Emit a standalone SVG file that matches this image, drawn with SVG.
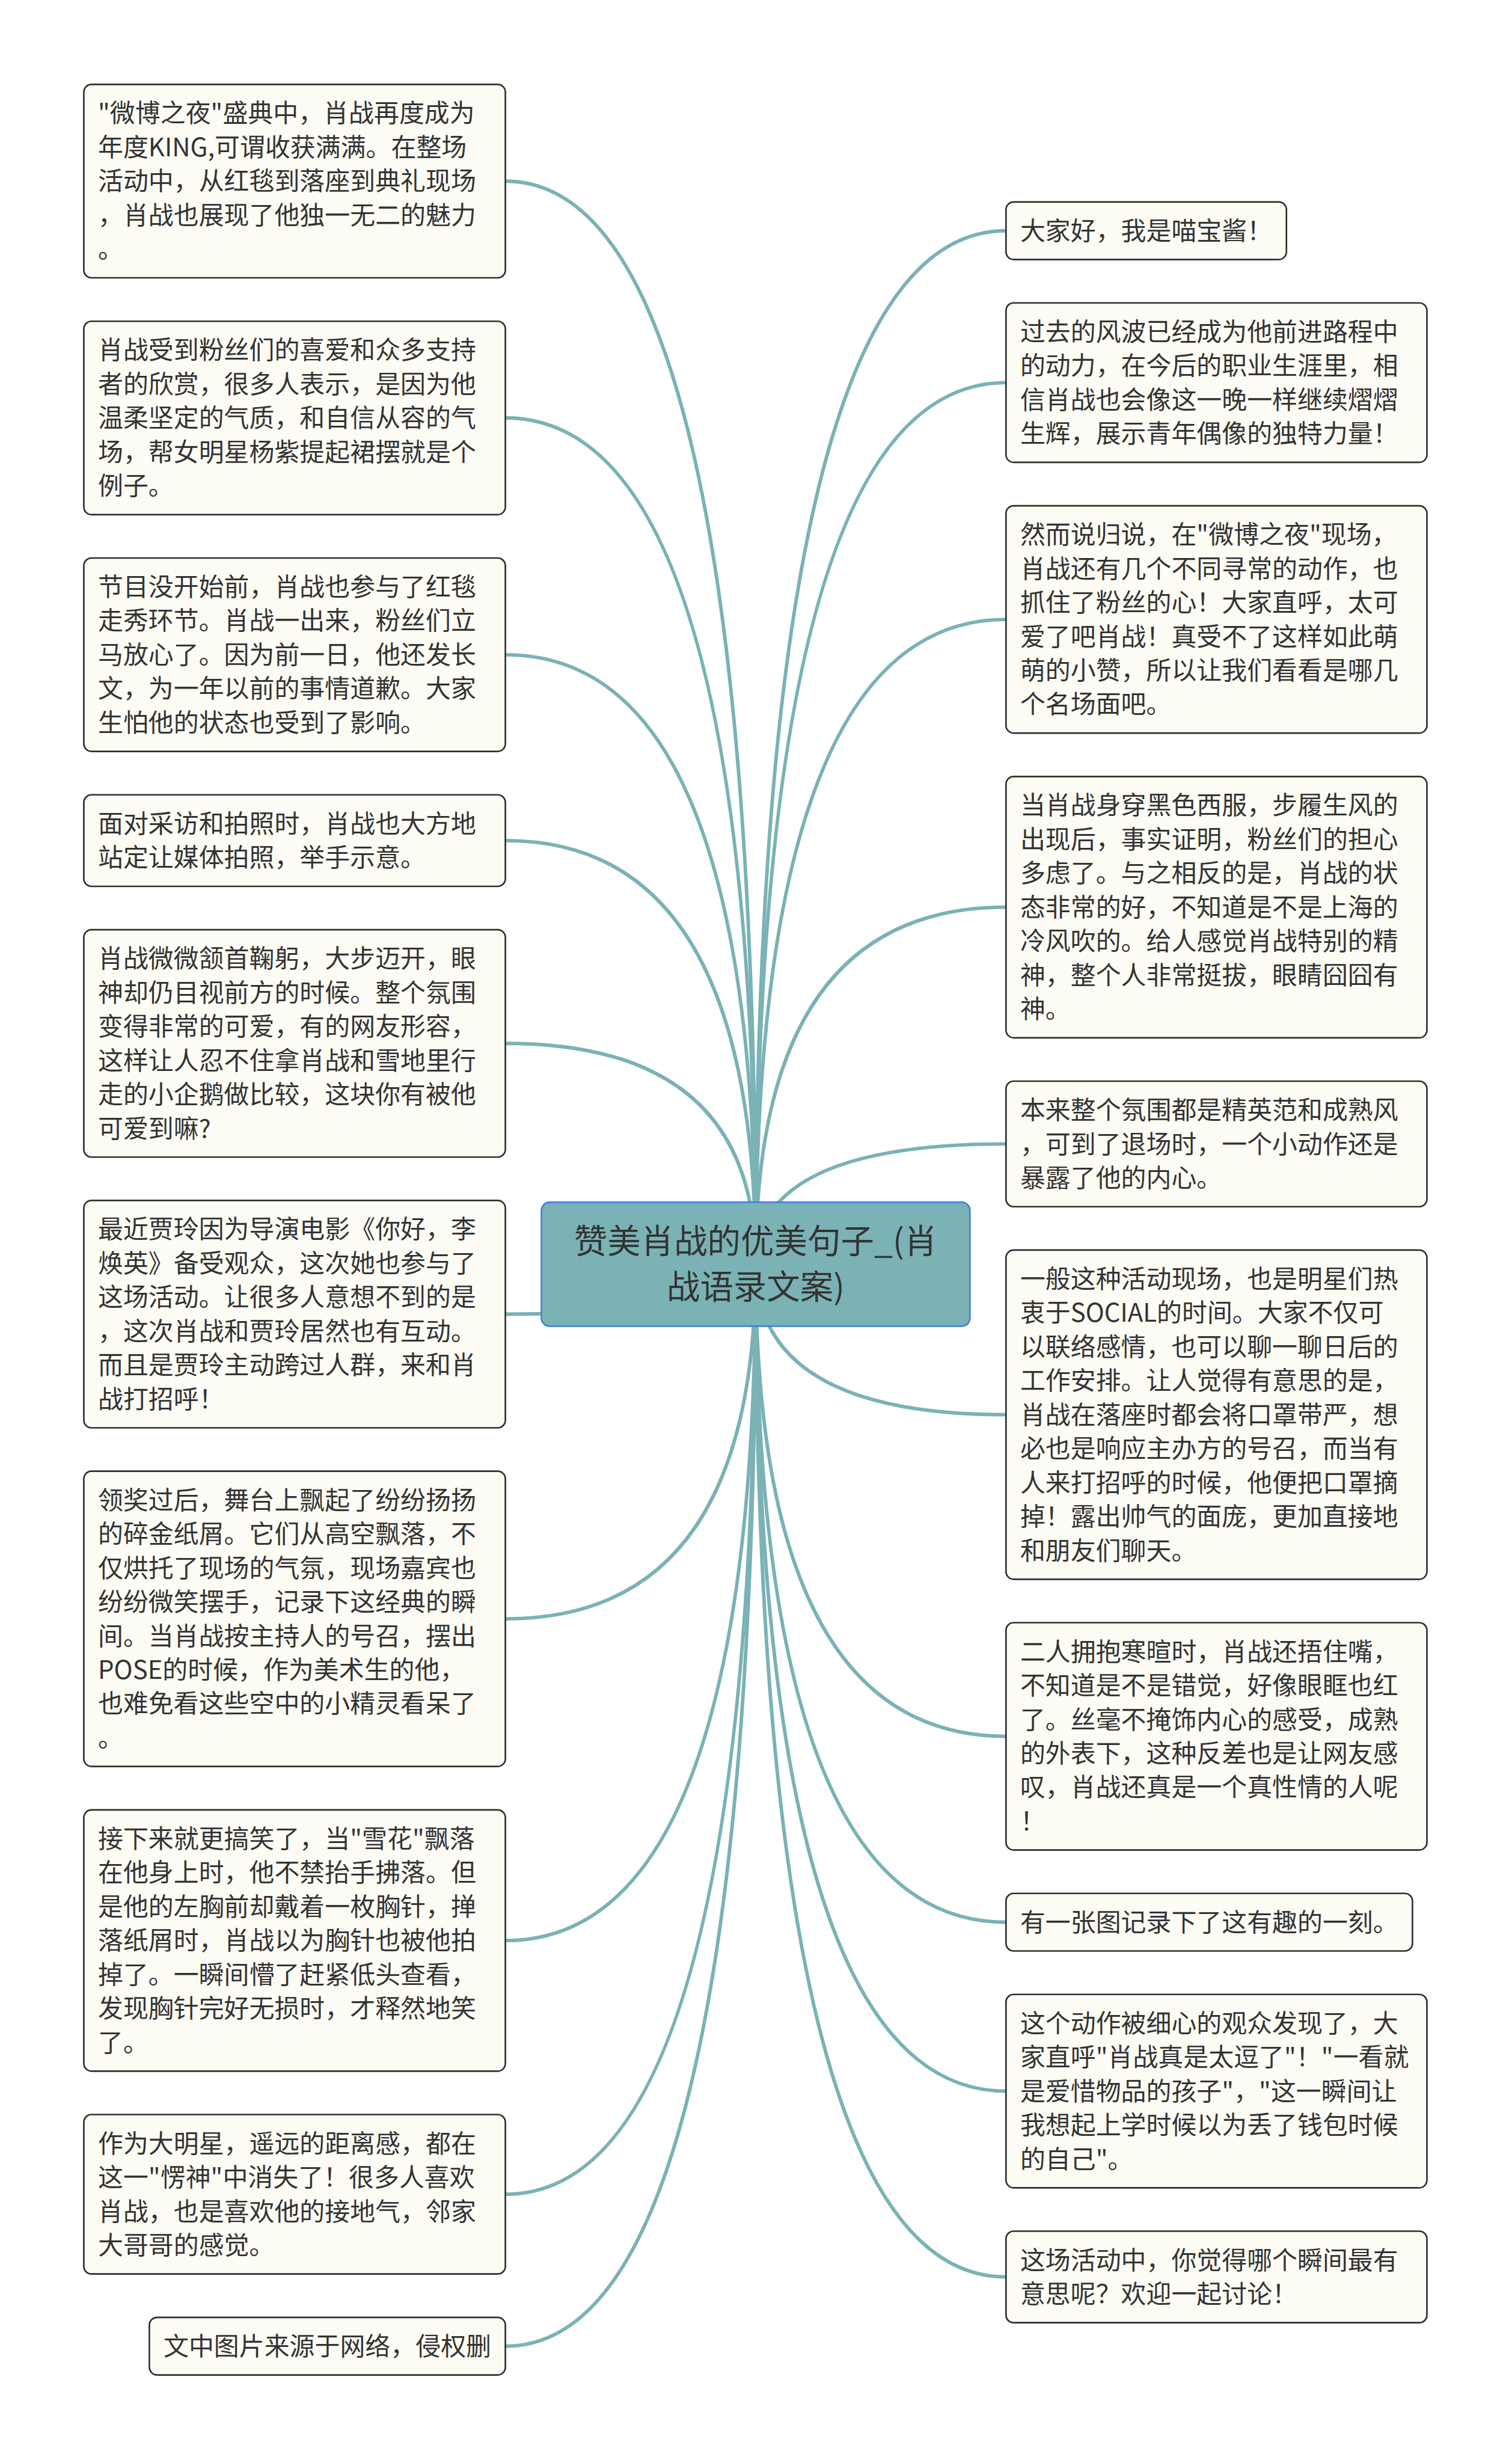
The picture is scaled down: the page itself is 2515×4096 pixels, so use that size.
<svg xmlns="http://www.w3.org/2000/svg" width="2515" height="4096" viewBox="0 0 2515 4096">
<style>
.box{fill:#fdfcf4;stroke:#2f2f2f;stroke-width:2.7}
.t{font-family:"Noto Sans CJK SC","Noto Sans",sans-serif;font-size:42.7px;fill:#333333}
.link{fill:none;stroke:#7ab2b5;stroke-width:6;stroke-linecap:round}
.cbox{fill:#7ab2b5;stroke:#3b7ddb;stroke-width:2.5}
.title{font-family:"Noto Sans CJK SC","Noto Sans",sans-serif;font-size:56.5px;fill:#333333;text-anchor:middle}
</style>
<rect x="0" y="0" width="2515" height="4096" fill="#ffffff"/>
<g transform="scale(0.982)">
<g id="connectors">
<path class="link" d="M1280 2141 Q1280 306.8 856 306.8"/>
<path class="link" d="M1280 2141 Q1280 707.8 856 707.8"/>
<path class="link" d="M1280 2141 Q1280 1108.8 856 1108.8"/>
<path class="link" d="M1280 2141 Q1280 1423.5 856 1423.5"/>
<path class="link" d="M1280 2141 Q1280 1767 856 1767"/>
<path class="link" d="M1280 2141 Q1280 2225.5 856 2225.5"/>
<path class="link" d="M1280 2141 Q1280 2741.5 856 2741.5"/>
<path class="link" d="M1280 2141 Q1280 3286.3 856 3286.3"/>
<path class="link" d="M1280 2141 Q1280 3716 856 3716"/>
<path class="link" d="M1280 2141 Q1280 3973.3 856 3973.3"/>
<path class="link" d="M1280 2141 Q1280 390.8 1704 390.8"/>
<path class="link" d="M1280 2141 Q1280 648 1704 648"/>
<path class="link" d="M1280 2141 Q1280 1049 1704 1049"/>
<path class="link" d="M1280 2141 Q1280 1536.3 1704 1536.3"/>
<path class="link" d="M1280 2141 Q1280 1937.3 1704 1937.3"/>
<path class="link" d="M1280 2141 Q1280 2395.8 1704 2395.8"/>
<path class="link" d="M1280 2141 Q1280 2940.5 1704 2940.5"/>
<path class="link" d="M1280 2141 Q1280 3255.3 1704 3255.3"/>
<path class="link" d="M1280 2141 Q1280 3541.3 1704 3541.3"/>
<path class="link" d="M1280 2141 Q1280 3856 1704 3856"/>
</g>
<g id="center">
<rect class="cbox" x="917" y="2036" width="726" height="210" rx="14"/>
<text class="title"><tspan x="1280" y="2122">赞美肖战的优美句子_(肖</tspan><tspan x="1280" y="2200">战语录文案)</tspan></text>
</g>
<g id="n1">
<rect class="box" x="142" y="143" width="714" height="327.5" rx="13"/>
<text class="t"><tspan x="166" y="207.2">"微博之夜"盛典中，肖战再度成为</tspan><tspan x="166" y="264.7">年度KING,可谓收获满满。在整场</tspan><tspan x="166" y="322.2">活动中，从红毯到落座到典礼现场</tspan><tspan x="166" y="379.7">，肖战也展现了他独一无二的魅力</tspan><tspan x="166" y="437.2">。</tspan></text>
</g>
<g id="n2">
<rect class="box" x="142" y="544" width="714" height="327.5" rx="13"/>
<text class="t"><tspan x="166" y="608.2">肖战受到粉丝们的喜爱和众多支持</tspan><tspan x="166" y="665.7">者的欣赏，很多人表示，是因为他</tspan><tspan x="166" y="723.2">温柔坚定的气质，和自信从容的气</tspan><tspan x="166" y="780.7">场，帮女明星杨紫提起裙摆就是个</tspan><tspan x="166" y="838.2">例子。</tspan></text>
</g>
<g id="n3">
<rect class="box" x="142" y="945" width="714" height="327.5" rx="13"/>
<text class="t"><tspan x="166" y="1009.2">节目没开始前，肖战也参与了红毯</tspan><tspan x="166" y="1066.7">走秀环节。肖战一出来，粉丝们立</tspan><tspan x="166" y="1124.2">马放心了。因为前一日，他还发长</tspan><tspan x="166" y="1181.7">文，为一年以前的事情道歉。大家</tspan><tspan x="166" y="1239.2">生怕他的状态也受到了影响。</tspan></text>
</g>
<g id="n4">
<rect class="box" x="142" y="1346" width="714" height="155" rx="13"/>
<text class="t"><tspan x="166" y="1410.2">面对采访和拍照时，肖战也大方地</tspan><tspan x="166" y="1467.7">站定让媒体拍照，举手示意。</tspan></text>
</g>
<g id="n5">
<rect class="box" x="142" y="1574.5" width="714" height="385" rx="13"/>
<text class="t"><tspan x="166" y="1638.7">肖战微微颔首鞠躬，大步迈开，眼</tspan><tspan x="166" y="1696.2">神却仍目视前方的时候。整个氛围</tspan><tspan x="166" y="1753.7">变得非常的可爱，有的网友形容，</tspan><tspan x="166" y="1811.2">这样让人忍不住拿肖战和雪地里行</tspan><tspan x="166" y="1868.7">走的小企鹅做比较，这块你有被他</tspan><tspan x="166" y="1926.2">可爱到嘛?</tspan></text>
</g>
<g id="n6">
<rect class="box" x="142" y="2033" width="714" height="385" rx="13"/>
<text class="t"><tspan x="166" y="2097.2">最近贾玲因为导演电影《你好，李</tspan><tspan x="166" y="2154.7">焕英》备受观众，这次她也参与了</tspan><tspan x="166" y="2212.2">这场活动。让很多人意想不到的是</tspan><tspan x="166" y="2269.7">，这次肖战和贾玲居然也有互动。</tspan><tspan x="166" y="2327.2">而且是贾玲主动跨过人群，来和肖</tspan><tspan x="166" y="2384.7">战打招呼！</tspan></text>
</g>
<g id="n7">
<rect class="box" x="142" y="2491.5" width="714" height="500" rx="13"/>
<text class="t"><tspan x="166" y="2555.7">领奖过后，舞台上飘起了纷纷扬扬</tspan><tspan x="166" y="2613.2">的碎金纸屑。它们从高空飘落，不</tspan><tspan x="166" y="2670.7">仅烘托了现场的气氛，现场嘉宾也</tspan><tspan x="166" y="2728.2">纷纷微笑摆手，记录下这经典的瞬</tspan><tspan x="166" y="2785.7">间。当肖战按主持人的号召，摆出</tspan><tspan x="166" y="2843.2">POSE的时候，作为美术生的他，</tspan><tspan x="166" y="2900.7">也难免看这些空中的小精灵看呆了</tspan><tspan x="166" y="2958.2">。</tspan></text>
</g>
<g id="n8">
<rect class="box" x="142" y="3065" width="714" height="442.5" rx="13"/>
<text class="t"><tspan x="166" y="3129.2">接下来就更搞笑了，当"雪花"飘落</tspan><tspan x="166" y="3186.7">在他身上时，他不禁抬手拂落。但</tspan><tspan x="166" y="3244.2">是他的左胸前却戴着一枚胸针，掸</tspan><tspan x="166" y="3301.7">落纸屑时，肖战以为胸针也被他拍</tspan><tspan x="166" y="3359.2">掉了。一瞬间懵了赶紧低头查看，</tspan><tspan x="166" y="3416.7">发现胸针完好无损时，才释然地笑</tspan><tspan x="166" y="3474.2">了。</tspan></text>
</g>
<g id="n9">
<rect class="box" x="142" y="3581" width="714" height="270" rx="13"/>
<text class="t"><tspan x="166" y="3645.2">作为大明星，遥远的距离感，都在</tspan><tspan x="166" y="3702.7">这一"愣神"中消失了！很多人喜欢</tspan><tspan x="166" y="3760.2">肖战，也是喜欢他的接地气，邻家</tspan><tspan x="166" y="3817.7">大哥哥的感觉。</tspan></text>
</g>
<g id="n10">
<rect class="box" x="253" y="3924.5" width="603" height="97.5" rx="13"/>
<text class="t"><tspan x="277" y="3988.7">文中图片来源于网络，侵权删</tspan></text>
</g>
<g id="r1">
<rect class="box" x="1704" y="342" width="475" height="97.5" rx="13"/>
<text class="t"><tspan x="1728" y="406.2">大家好，我是喵宝酱！</tspan></text>
</g>
<g id="r2">
<rect class="box" x="1704" y="513" width="713" height="270" rx="13"/>
<text class="t"><tspan x="1728" y="577.2">过去的风波已经成为他前进路程中</tspan><tspan x="1728" y="634.7">的动力，在今后的职业生涯里，相</tspan><tspan x="1728" y="692.2">信肖战也会像这一晚一样继续熠熠</tspan><tspan x="1728" y="749.7">生辉，展示青年偶像的独特力量！</tspan></text>
</g>
<g id="r3">
<rect class="box" x="1704" y="856.5" width="713" height="385" rx="13"/>
<text class="t"><tspan x="1728" y="920.7">然而说归说，在"微博之夜"现场，</tspan><tspan x="1728" y="978.2">肖战还有几个不同寻常的动作，也</tspan><tspan x="1728" y="1035.7">抓住了粉丝的心！大家直呼，太可</tspan><tspan x="1728" y="1093.2">爱了吧肖战！真受不了这样如此萌</tspan><tspan x="1728" y="1150.7">萌的小赞，所以让我们看看是哪几</tspan><tspan x="1728" y="1208.2">个名场面吧。</tspan></text>
</g>
<g id="r4">
<rect class="box" x="1704" y="1315" width="713" height="442.5" rx="13"/>
<text class="t"><tspan x="1728" y="1379.2">当肖战身穿黑色西服，步履生风的</tspan><tspan x="1728" y="1436.7">出现后，事实证明，粉丝们的担心</tspan><tspan x="1728" y="1494.2">多虑了。与之相反的是，肖战的状</tspan><tspan x="1728" y="1551.7">态非常的好，不知道是不是上海的</tspan><tspan x="1728" y="1609.2">冷风吹的。给人感觉肖战特别的精</tspan><tspan x="1728" y="1666.7">神，整个人非常挺拔，眼睛囧囧有</tspan><tspan x="1728" y="1724.2">神。</tspan></text>
</g>
<g id="r5">
<rect class="box" x="1704" y="1831" width="713" height="212.5" rx="13"/>
<text class="t"><tspan x="1728" y="1895.2">本来整个氛围都是精英范和成熟风</tspan><tspan x="1728" y="1952.7">，可到了退场时，一个小动作还是</tspan><tspan x="1728" y="2010.2">暴露了他的内心。</tspan></text>
</g>
<g id="r6">
<rect class="box" x="1704" y="2117" width="713" height="557.5" rx="13"/>
<text class="t"><tspan x="1728" y="2181.2">一般这种活动现场，也是明星们热</tspan><tspan x="1728" y="2238.7">衷于SOCIAL的时间。大家不仅可</tspan><tspan x="1728" y="2296.2">以联络感情，也可以聊一聊日后的</tspan><tspan x="1728" y="2353.7">工作安排。让人觉得有意思的是，</tspan><tspan x="1728" y="2411.2">肖战在落座时都会将口罩带严，想</tspan><tspan x="1728" y="2468.7">必也是响应主办方的号召，而当有</tspan><tspan x="1728" y="2526.2">人来打招呼的时候，他便把口罩摘</tspan><tspan x="1728" y="2583.7">掉！露出帅气的面庞，更加直接地</tspan><tspan x="1728" y="2641.2">和朋友们聊天。</tspan></text>
</g>
<g id="r7">
<rect class="box" x="1704" y="2748" width="713" height="385" rx="13"/>
<text class="t"><tspan x="1728" y="2812.2">二人拥抱寒暄时，肖战还捂住嘴，</tspan><tspan x="1728" y="2869.7">不知道是不是错觉，好像眼眶也红</tspan><tspan x="1728" y="2927.2">了。丝毫不掩饰内心的感受，成熟</tspan><tspan x="1728" y="2984.7">的外表下，这种反差也是让网友感</tspan><tspan x="1728" y="3042.2">叹，肖战还真是一个真性情的人呢</tspan><tspan x="1728" y="3099.7">！</tspan></text>
</g>
<g id="r8">
<rect class="box" x="1704" y="3206.5" width="688.5" height="97.5" rx="13"/>
<text class="t"><tspan x="1728" y="3270.7">有一张图记录下了这有趣的一刻。</tspan></text>
</g>
<g id="r9">
<rect class="box" x="1704" y="3377.5" width="713" height="327.5" rx="13"/>
<text class="t"><tspan x="1728" y="3441.7">这个动作被细心的观众发现了，大</tspan><tspan x="1728" y="3499.2">家直呼"肖战真是太逗了"！"一看就</tspan><tspan x="1728" y="3556.7">是爱惜物品的孩子"，"这一瞬间让</tspan><tspan x="1728" y="3614.2">我想起上学时候以为丢了钱包时候</tspan><tspan x="1728" y="3671.7">的自己"。</tspan></text>
</g>
<g id="r10">
<rect class="box" x="1704" y="3778.5" width="713" height="155" rx="13"/>
<text class="t"><tspan x="1728" y="3842.7">这场活动中，你觉得哪个瞬间最有</tspan><tspan x="1728" y="3900.2">意思呢？欢迎一起讨论！</tspan></text>
</g>
</g>
</svg>
